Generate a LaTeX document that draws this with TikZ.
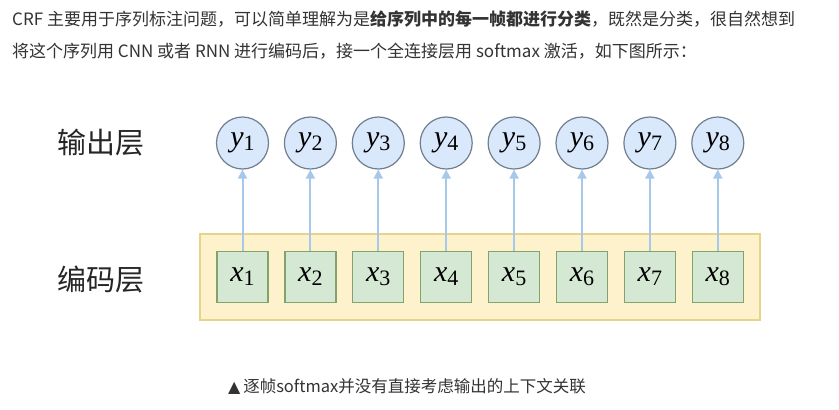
\documentclass[tikz,border=0pt]{standalone}
\usepackage{fontspec}
\setmainfont{Noto Sans CJK SC}
\newfontfamily\timesf{Liberation Serif}
\newfontfamily\symf{DejaVu Sans}
\usetikzlibrary{arrows.meta}
\definecolor{txt}{HTML}{333333}
\definecolor{encfill}{HTML}{FDF2CC}
\definecolor{encdraw}{HTML}{E5D48A}
\definecolor{xfill}{HTML}{D5E8D4}
\definecolor{xdraw}{HTML}{82A36B}
\definecolor{yfill}{HTML}{DAE8FC}
\definecolor{ydraw}{HTML}{6F7F90}
\definecolor{arr}{HTML}{A6C8EA}
\newcommand{\varsym}[2]{{\timesf\fontsize{30}{30}\selectfont\itshape #1\upshape\raisebox{-4pt}{\fontsize{22}{22}\selectfont #2}}}
\tikzset{
  ynode/.style={circle, draw=ydraw, fill=yfill, line width=1.2pt, minimum size=52pt, inner sep=0pt},
  xnode/.style={rectangle, draw=xdraw, fill=xfill, line width=1.2pt, minimum size=51pt, inner sep=0pt},
  encbox/.style={draw=encdraw, fill=encfill, line width=1.5pt},
  conn/.style={draw=arr, line width=2pt, -{Triangle[width=9pt,length=9pt]}},
  bodytext/.style={anchor=west, inner sep=0pt, text=txt, font=\fontsize{17}{17}\selectfont},
  layertext/.style={inner sep=0pt, text=black!85, font=\fontsize{29}{29}\selectfont},
}
\begin{document}
\begin{tikzpicture}[x=1pt,y=-1pt]
\useasboundingbox (0,0) rectangle (839,410);
\fill[white] (0,0) rectangle (839,410);
\node[bodytext] (l1) at (12,19) {CRF 主要用于序列标注问题，可以简单理解为是\textbf{给序列中的每一帧都进行分类}，既然是分类，很自然想到};
\node[bodytext] (l2) at (12,51) {将这个序列用 CNN 或者 RNN 进行编码后，接一个全连接层用 softmax 激活，如下图所示：};
\node[layertext] (outl) at (101,143) {输出层};
\node[layertext] (encl) at (101,280) {编码层};
\draw[encbox] (200,234) rectangle (760,320);
\foreach \i in {1,...,8} {
  \pgfmathsetmacro{\xx}{242.5+67.9*(\i-1)}
  \node[ynode] (y\i) at (\xx,143) {\varsym{y}{\i}};
  \node[xnode] (x\i) at (\xx,277) {\varsym{x}{\i}};
  \draw[conn] (x\i.north) -- (y\i.south);
}
\node[anchor=west, inner sep=0pt, text=txt, font=\fontsize{16.5}{16.5}\selectfont] (cap) at (228,386) {{\symf\fontsize{16}{16}\selectfont ▲}\,逐帧softmax并没有直接考虑输出的上下文关联};
\end{tikzpicture}
\end{document}
